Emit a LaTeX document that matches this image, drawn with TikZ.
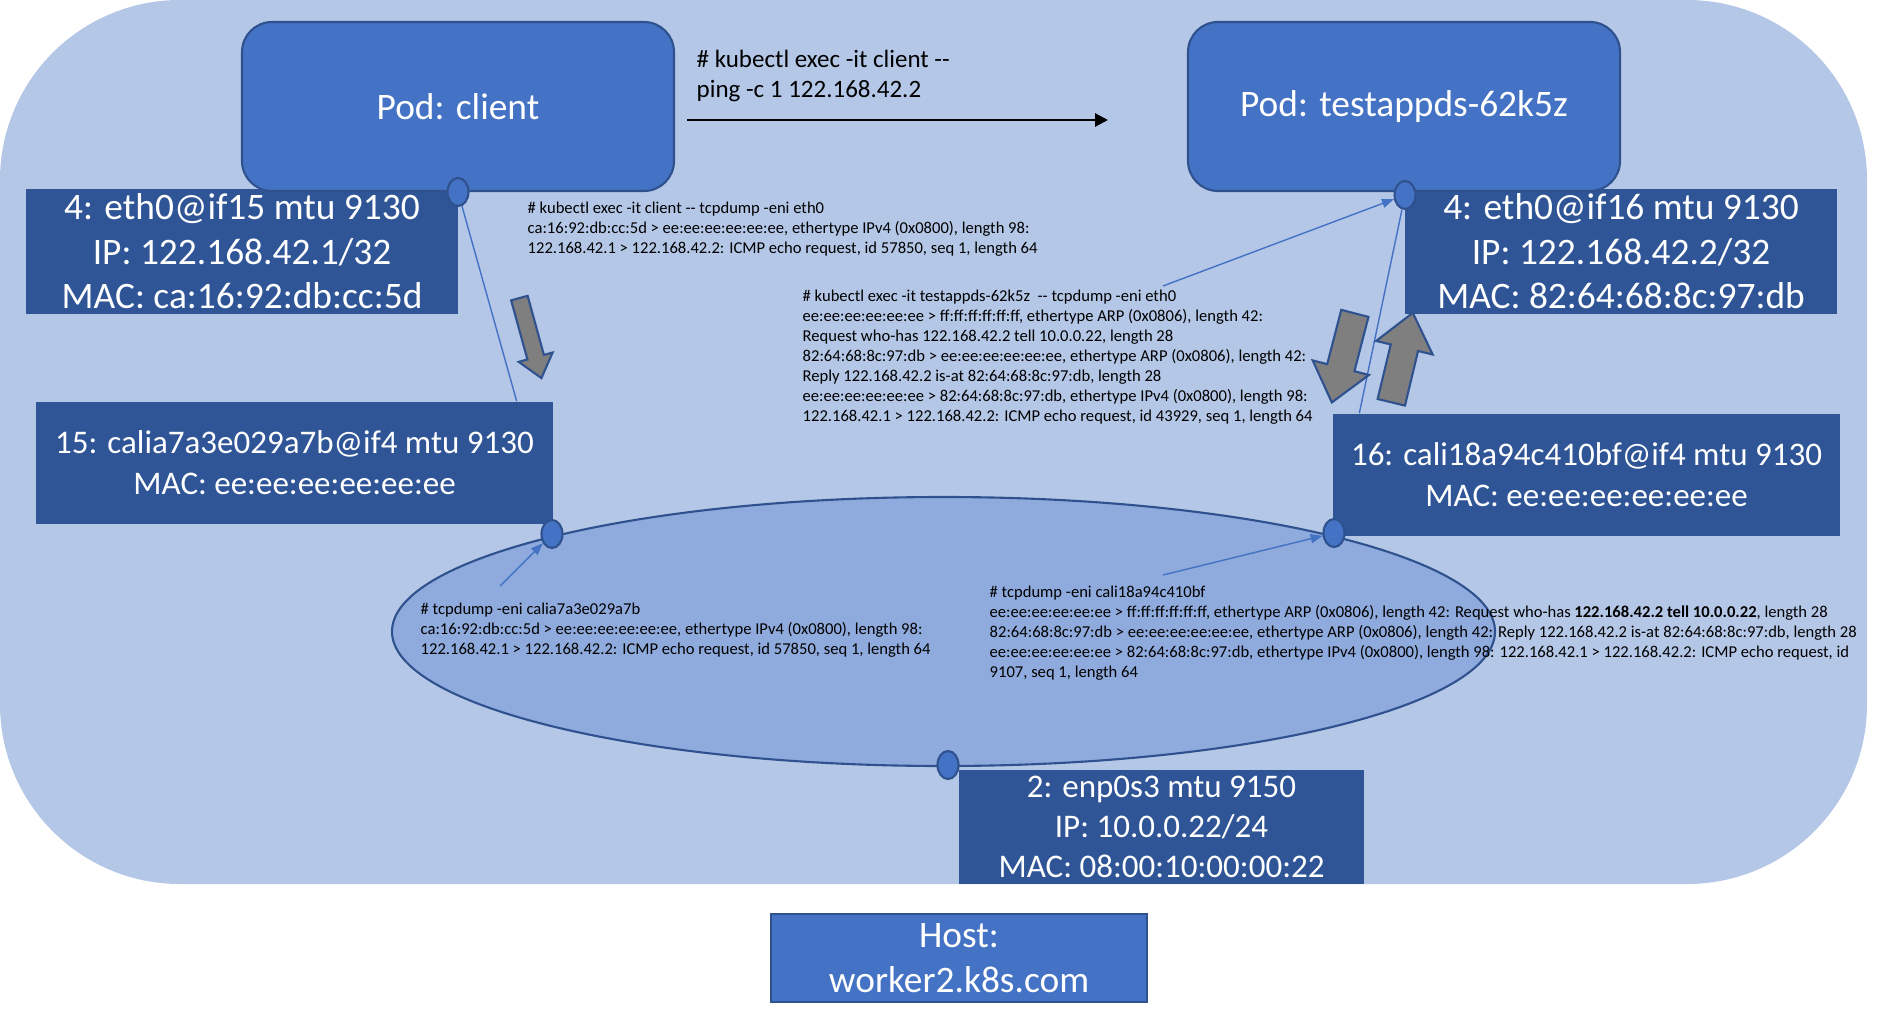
\documentclass[tikz,border=0pt]{standalone}
\usepackage{fontspec}
\setmainfont{Carlito}
\usepackage{tikz}
\usetikzlibrary{shapes.geometric,shapes.arrows,arrows.meta}
\definecolor{hostbg}{HTML}{B4C7E7}
\definecolor{netbg}{HTML}{8FAADC}
\definecolor{podblue}{HTML}{4472C4}
\definecolor{podline}{HTML}{2F528F}
\definecolor{ifblue}{HTML}{2F5597}
\definecolor{flowgray}{HTML}{7F7F7F}

\begin{document}
\begin{tikzpicture}[
  big/.style={font=\fontsize{10.64}{12.66}\selectfont},
  mid/.style={font=\fontsize{9.39}{11.67}\selectfont},
  pod/.style={draw=podline,line width=0.6pt,fill=podblue,rounded corners=0.3cm,text=white,big,minimum width=4.32cm,minimum height=1.69cm},
  iface/.style={fill=ifblue,text=white,align=center,inner sep=0pt},
  dump/.style={anchor=north west,align=left,inner sep=0pt,font=\fontsize{4.72}{5.69}\selectfont},
  port/.style={ellipse,draw=podline,line width=0.6pt,fill=podblue,minimum width=0.21cm,minimum height=0.28cm,inner sep=0pt},
  wire/.style={podblue,line width=0.4pt},
  wirearrow/.style={wire,-{Triangle[length=0.12cm,width=0.09cm]}},
  flow/.style={single arrow,draw=podline,line width=0.6pt,fill=flowgray,single arrow tip angle=78,inner xsep=0pt}
]
\useasboundingbox (0,0) rectangle (18.86,10.27);
\fill[hostbg,rounded corners=1.8cm] (0,1.43) rectangle (18.67,10.27);

\node[ellipse,draw=podline,line width=0.6pt,fill=netbg,minimum width=11.03cm,minimum height=2.69cm,inner sep=0pt] (hostnet) at (9.435,3.955) {};

\node[iface,big,minimum width=4.32cm,minimum height=1.25cm] (ethc) at (2.42,7.755) {4: eth0@if15 mtu 9130\\IP: 122.168.42.1/32\\MAC: ca:16:92:db:cc:5d};
\node[iface,big,minimum width=4.32cm,minimum height=1.25cm] (etht) at (16.21,7.755) {4: eth0@if16 mtu 9130\\IP: 122.168.42.2/32\\MAC: 82:64:68:8c:97:db};
\node[iface,mid,minimum width=5.17cm,minimum height=1.22cm] (calic) at (2.945,5.64) {15: calia7a3e029a7b@if4 mtu 9130\\MAC: ee:ee:ee:ee:ee:ee};
\node[iface,mid,minimum width=5.07cm,minimum height=1.22cm] (calit) at (15.865,5.52) {16: cali18a94c410bf@if4 mtu 9130\\MAC: ee:ee:ee:ee:ee:ee};
\node[iface,font=\fontsize{9.39}{11.38}\selectfont,minimum width=4.05cm,minimum height=1.14cm] (enp) at (11.615,2.00) {2: enp0s3 mtu 9150\\IP: 10.0.0.22/24\\MAC: 08:00:10:00:00:22};

\node[pod] (client) at (4.58,9.205) {Pod: client};
\node[pod] (testapp) at (14.04,9.205) {Pod: testappds-62k5z};

\node[draw=podline,line width=0.6pt,fill=podblue,text=white,align=center,inner sep=0pt,font=\fontsize{10.64}{12.8}\selectfont,minimum width=3.76cm,minimum height=0.88cm] (host) at (9.59,0.69) {Host:\\worker2.k8s.com};

\node[port] (dc) at (4.58,8.35) {};
\node[port] (dt) at (14.05,8.32) {};
\node[port] (dl) at (5.52,4.93) {};
\node[port] (dr) at (13.34,4.94) {};
\node[port] (db) at (9.48,2.62) {};

\draw[wire] (dc) -- ([xshift=-0.37cm]calic.north east);
\draw[wire] (dt) -- ([xshift=0.27cm]calit.north west);

\coordinate (q1) at (11.63,7.41);
\coordinate (q2) at (5.00,4.41);
\coordinate (q3) at (11.63,4.52);
\draw[wirearrow] (q1) -- (dt);
\draw[wirearrow] (q2) -- (dl);
\draw[wirearrow] (q3) -- (dr);

\coordinate (p1) at (6.87,9.07);
\coordinate (p2) at (11.08,9.07);
\draw[line width=0.85pt,-{Triangle[length=0.13cm,width=0.13cm]}] (p1) -- (p2);
\node[anchor=north west,align=left,inner sep=0pt,font=\fontsize{7.11}{8.54}\selectfont] (pingcmd) at (6.96,9.78) {\# kubectl exec -it client -{}-\\ping -c 1 122.168.42.2};

\node[dump] (dumpc) at (5.27,8.256) {\# kubectl exec -it client -{}- tcpdump -eni eth0\\ca:16:92:db:cc:5d > ee:ee:ee:ee:ee:ee, ethertype IPv4 (0x0800), length 98:\\122.168.42.1 > 122.168.42.2: ICMP echo request, id 57850, seq 1, length 64};
\node[dump] (dumpt) at (8.02,7.376) {\# kubectl exec -it testappds-62k5z\ \ -{}- tcpdump -eni eth0\\ee:ee:ee:ee:ee:ee > ff:ff:ff:ff:ff:ff, ethertype ARP (0x0806), length 42:\\Request who-has 122.168.42.2 tell 10.0.0.22, length 28\\82:64:68:8c:97:db > ee:ee:ee:ee:ee:ee, ethertype ARP (0x0806), length 42:\\Reply 122.168.42.2 is-at 82:64:68:8c:97:db, length 28\\ee:ee:ee:ee:ee:ee > 82:64:68:8c:97:db, ethertype IPv4 (0x0800), length 98:\\122.168.42.1 > 122.168.42.2: ICMP echo request, id 43929, seq 1, length 64};
\node[dump] (dumpl) at (4.20,4.246) {\# tcpdump -eni calia7a3e029a7b\\ca:16:92:db:cc:5d > ee:ee:ee:ee:ee:ee, ethertype IPv4 (0x0800), length 98:\\122.168.42.1 > 122.168.42.2: ICMP echo request, id 57850, seq 1, length 64};
\node[dump] (dumpr) at (9.89,4.416) {\# tcpdump -eni cali18a94c410bf\\ee:ee:ee:ee:ee:ee > ff:ff:ff:ff:ff:ff, ethertype ARP (0x0806), length 42: Request who-has \textbf{122.168.42.2 tell 10.0.0.22}, length 28\\82:64:68:8c:97:db > ee:ee:ee:ee:ee:ee, ethertype ARP (0x0806), length 42: Reply 122.168.42.2 is-at 82:64:68:8c:97:db, length 28\\ee:ee:ee:ee:ee:ee > 82:64:68:8c:97:db, ethertype IPv4 (0x0800), length 98: 122.168.42.1 > 122.168.42.2: ICMP echo request, id\\9107, seq 1, length 64};

\node[flow,minimum height=0.83cm,inner ysep=0.075cm,single arrow head extend=0.09cm,rotate=-74.6] (fc) at (5.29,6.94) {};
\node[flow,minimum height=0.92cm,inner ysep=0.13cm,single arrow head extend=0.15cm,rotate=-104.5] (fd) at (13.455,6.775) {};
\node[flow,minimum height=0.92cm,inner ysep=0.13cm,single arrow head extend=0.15cm,rotate=76.5] (fu) at (14.00,6.61) {};
\end{tikzpicture}
\end{document}
